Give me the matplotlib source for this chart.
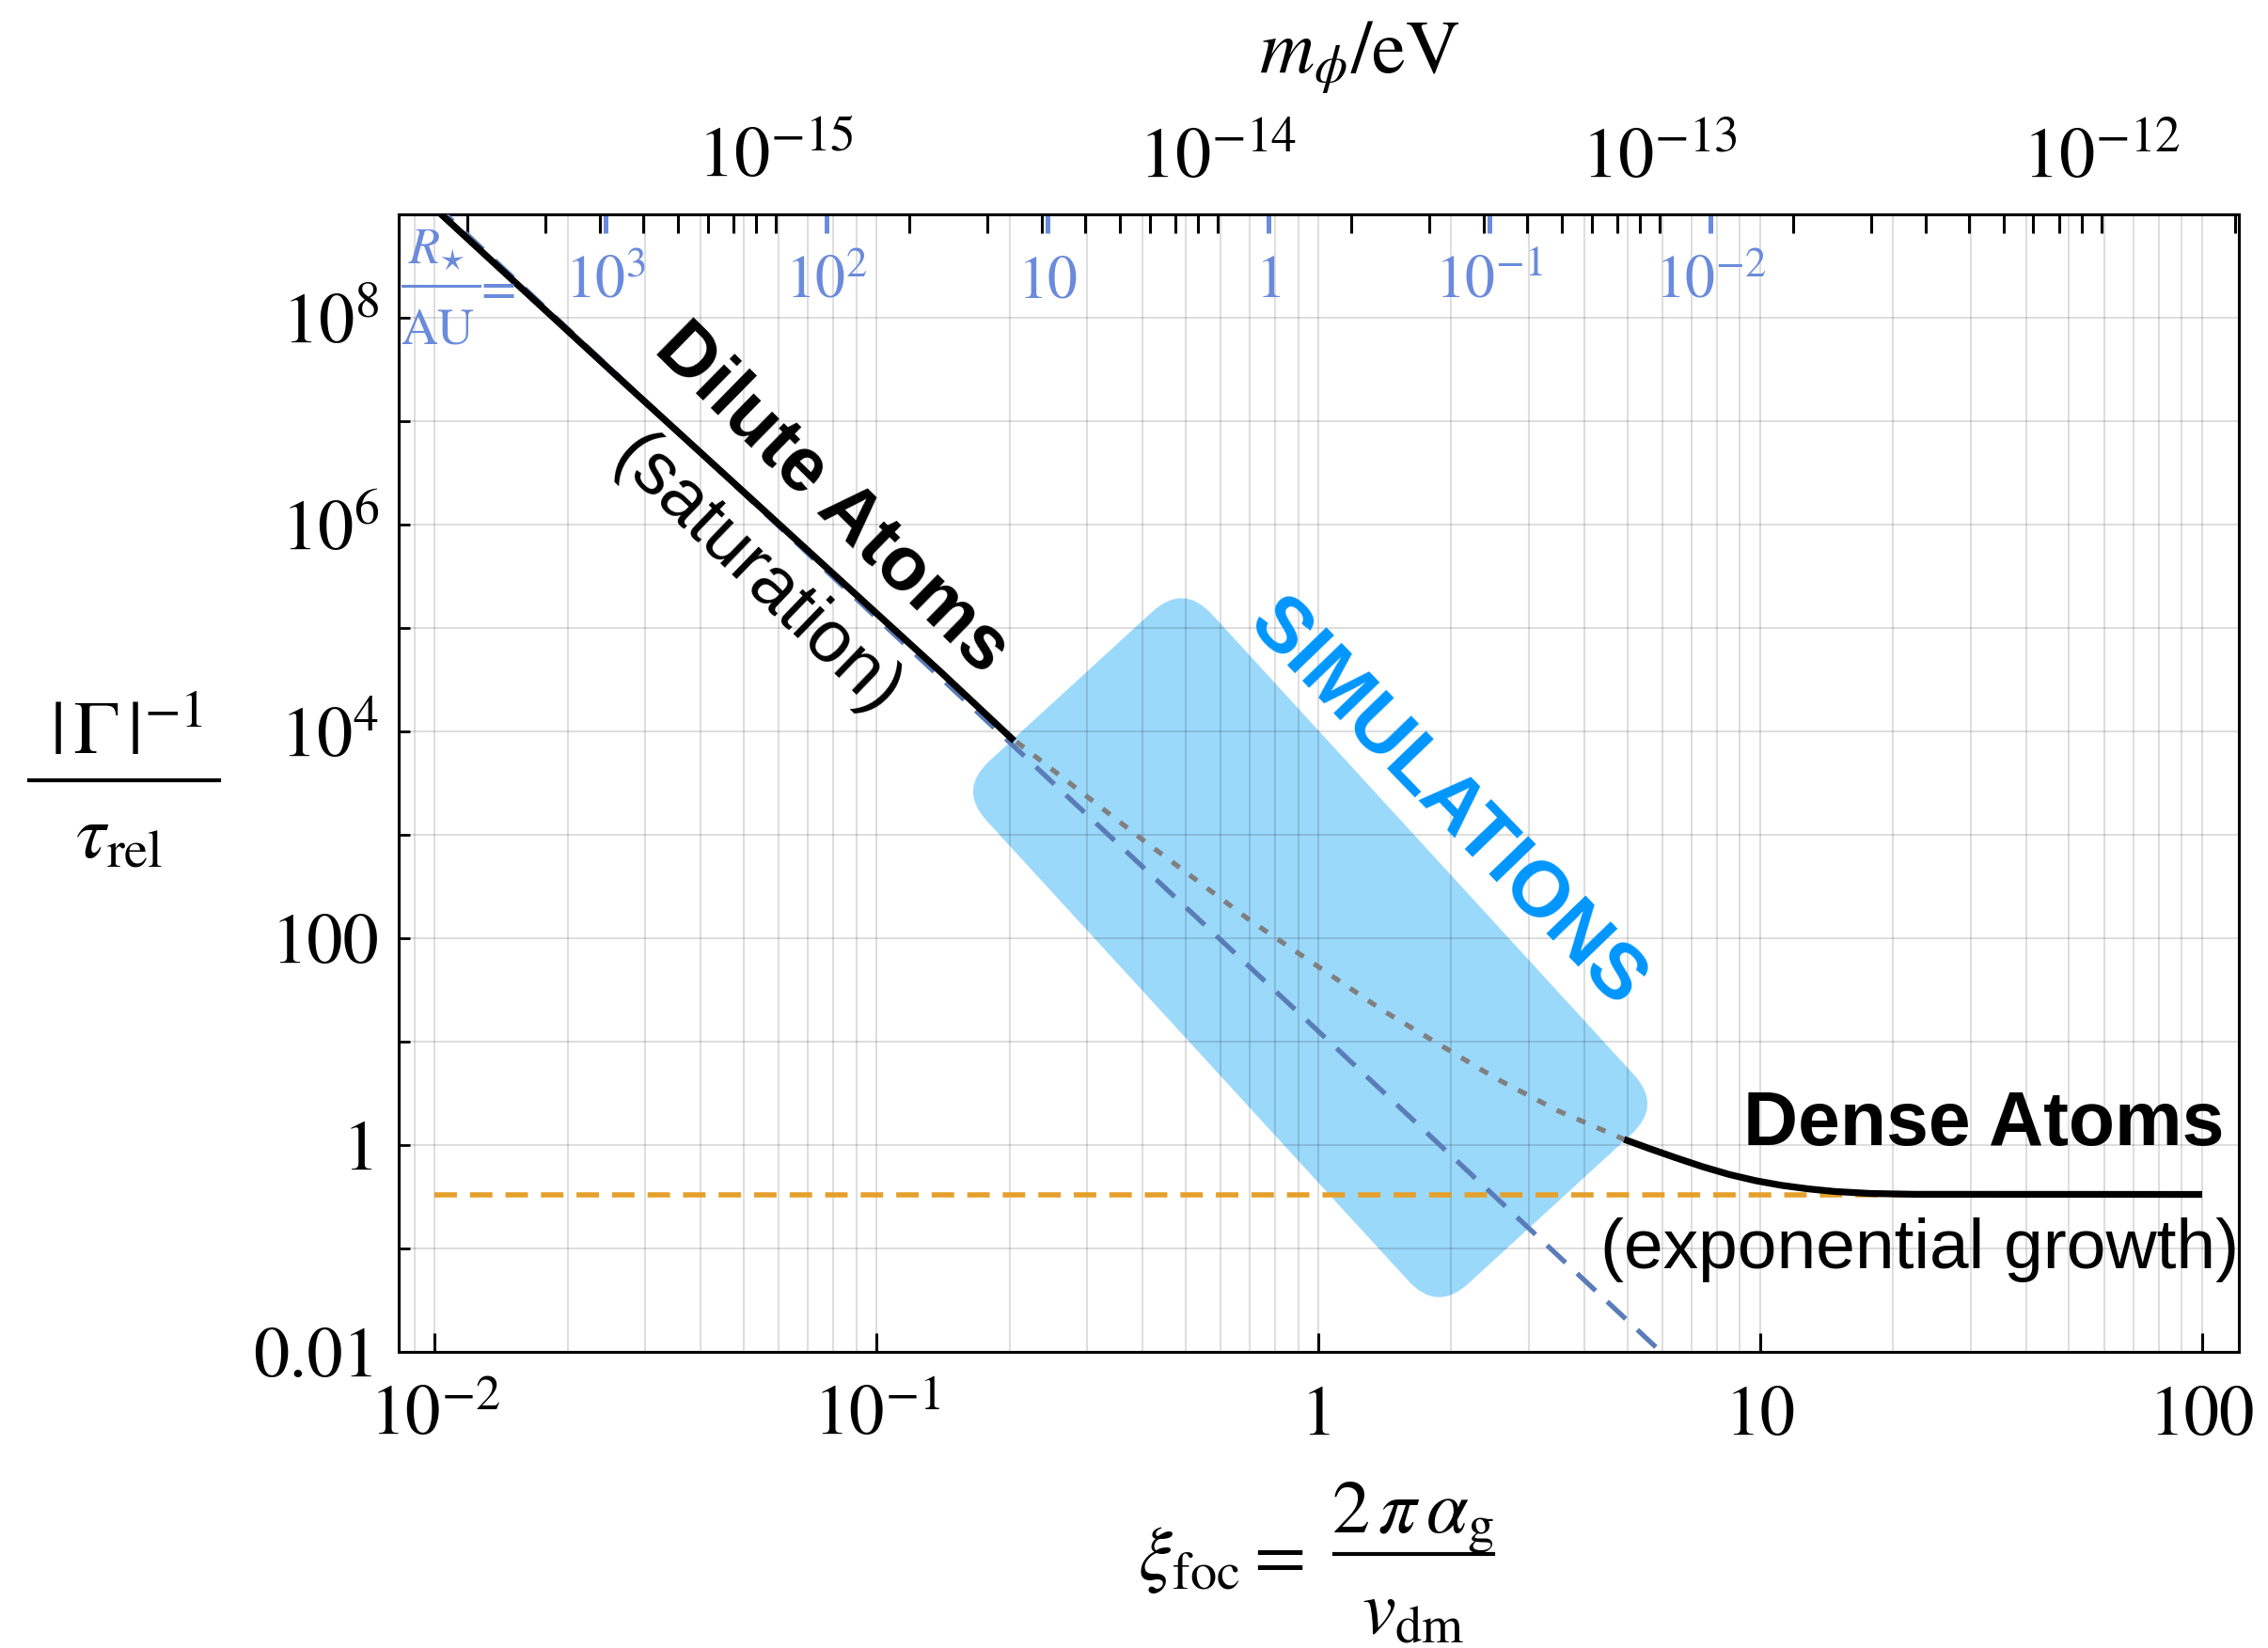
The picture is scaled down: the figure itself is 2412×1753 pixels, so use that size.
import numpy as np
import matplotlib
matplotlib.use('Agg')
import matplotlib.pyplot as plt
from matplotlib.lines import Line2D
from matplotlib.patches import FancyBboxPatch
from matplotlib.transforms import Affine2D, blended_transform_factory
from matplotlib.ticker import LogLocator, NullLocator, NullFormatter

plt.rcParams['font.family'] = 'STIXGeneral'
plt.rcParams['mathtext.fontset'] = 'stix'

# curves (xi_foc, |Gamma|^-1 / tau_rel)
xi_dilute = [0.0100, 0.0273, 0.0562, 0.100, 0.140, 0.205]
gam_dilute = [1.15e9, 2.21e7, 1.32e6, 1.39e5, 3.74e4, 8.11e3]

xi_sat = [0.2075, 0.405, 0.705, 1.40, 2.52, 3.49, 4.92]
gam_sat = [7.94e3, 863, 146, 20.0, 4.42, 2.14, 1.135]

xi_dense = [4.92, 5.62, 6.46, 7.41, 8.51, 9.77, 11.2, 12.9, 14.8, 17.8, 22.4, 100]
gam_dense = [1.135, 0.923, 0.750, 0.617, 0.519, 0.452, 0.407, 0.376, 0.355, 0.340, 0.334, 0.333]

xi_asym = [0.01, 5.96]
gam_asym = [1.26e9, 0.01]

xi_floor = [0.01, 100]
gam_floor = [0.333, 0.333]

# ticks and labels
x_ticks = [1e-2, 1e-1, 1, 10, 100]
x_labels = [r'$10^{-2}$', r'$10^{-1}$', '1', '10', '100']
y_ticks = [1e-2, 1e-1, 1, 10, 100, 1e3, 1e4, 1e5, 1e6, 1e7, 1e8, 1e9]
y_labels = ['0.01', '', '1', '', '100', '', r'$10^4$', '', r'$10^6$', '', r'$10^8$', '']
m_ticks = [1e-15, 1e-14, 1e-13, 1e-12]
m_labels = [r'$10^{-15}$', r'$10^{-14}$', r'$10^{-13}$', r'$10^{-12}$']
R_ticks = [1e3, 1e2, 10, 1, 0.1, 0.01]
R_labels = [r'$10^{3}$', r'$10^{2}$', r'$10$', r'$1$', r'$10^{-1}$', r'$10^{-2}$']

# axis conversions
M_PER_XI = 10**-13.773
R_COEF = 10**-0.226

# simulations box (centre in data units)
box_xi, box_gam = 0.959, 81.0

blue_R = '#6A8ADB'
c_orange = '#E5A02B'
c_slate = '#5A7DB8'
c_box = '#9BD9FB'
c_sim = '#0096FF'

W_PX, H_PX = 2412, 1753


def fpos(x, y):
    # pixel position (from top-left) -> figure fraction
    return x / W_PX, 1 - y / H_PX


fig = plt.figure(figsize=(12.06, 8.765), dpi=200)
ax = fig.add_subplot(111)
fig.subplots_adjust(left=0.1758, right=0.9871, top=0.8699, bottom=0.1797)

ax.set_xscale('log')
ax.set_yscale('log')
ax.set_xlim(0.0083, 121)
ax.set_ylim(1e-2, 1e9)

ax.plot(xi_floor, gam_floor, color=c_orange, lw=2.0, dashes=(4.3, 2.5), zorder=2)
ax.plot(xi_asym, gam_asym, color=c_slate, lw=1.9, dashes=(5.1, 3.2), zorder=3)
ax.plot(xi_sat, gam_sat, color='#808080', lw=1.9, dashes=(1.9, 2.5), zorder=3)
ax.plot(xi_dilute, gam_dilute, color='k', lw=2.6, zorder=4, solid_capstyle='butt')
ax.plot(xi_dense, gam_dense, color='k', lw=2.6, zorder=4, solid_capstyle='butt')

# rotated rounded rectangle
cx, cy = ax.transData.transform((box_xi, box_gam))
L, W, r = 754, 325, 45
box = FancyBboxPatch((-L / 2, -W / 2), L, W,
                     boxstyle=f"round,pad=0,rounding_size={r}",
                     transform=Affine2D().rotate_deg(-47.5).translate(cx, cy),
                     facecolor=c_box, edgecolor='none', zorder=0.2)
ax.add_artist(box)

# grid
ax.set_axisbelow(True)
ax.xaxis.set_minor_locator(LogLocator(base=10, subs=np.arange(2, 10), numticks=20))
ax.xaxis.set_minor_formatter(NullFormatter())
ax.yaxis.set_minor_locator(NullLocator())
ax.grid(True, which='major', color='k', alpha=0.13, lw=0.75)
ax.grid(True, which='minor', axis='x', color='k', alpha=0.13, lw=0.75)

ax.set_xticks(x_ticks, x_labels)
ax.set_yticks(y_ticks, y_labels)
ax.tick_params(axis='x', which='major', direction='in', length=7.2, width=1.1,
               top=False, pad=31.7, labelsize=27)
ax.tick_params(axis='x', which='minor', length=0, top=False)
ax.tick_params(axis='y', which='major', direction='in', length=4.3, width=1.0,
               right=False, pad=7.5, labelsize=27.5)
plt.setp(ax.get_xticklabels(), va='baseline')
plt.setp(ax.get_yticklabels(), va='center_baseline')
for s in ax.spines.values():
    s.set_linewidth(1.1)

# top axis: m_phi
sec_m = ax.secondary_xaxis('top', functions=(lambda x: x * M_PER_XI,
                                              lambda m: m / M_PER_XI))
sec_m.set_xticks(m_ticks, m_labels)
sec_m.xaxis.set_minor_locator(LogLocator(base=10, subs=np.arange(2, 10), numticks=20))
sec_m.xaxis.set_minor_formatter(NullFormatter())
sec_m.tick_params(which='both', direction='in', length=7.2, width=1.1)
sec_m.tick_params(which='major', pad=14.4, labelsize=27.5)
plt.setp(sec_m.get_xticklabels(), va='baseline')
sec_m.spines['top'].set_linewidth(1.1)


# top axis: R_star / AU (blue)
def xi_to_R(x):
    x = np.maximum(np.asarray(x, dtype=float), 1e-300)
    return R_COEF / x**2


def R_to_xi(R):
    R = np.maximum(np.asarray(R, dtype=float), 1e-300)
    return np.sqrt(R_COEF / R)


sec_R = ax.secondary_xaxis('top', functions=(xi_to_R, R_to_xi))
sec_R.set_xticks(R_ticks, [''] * len(R_ticks))
sec_R.xaxis.set_minor_locator(NullLocator())
sec_R.tick_params(which='major', direction='in', length=7.2, width=1.8, color=blue_R)
sec_R.spines['top'].set_visible(False)

trans = blended_transform_factory(ax.transData, ax.transAxes)
for R, lab in zip(R_ticks, R_labels):
    ax.text(R_to_xi(R), 0.9273, lab, transform=trans, ha='center', va='baseline',
            color=blue_R, fontsize=23, zorder=5)

# "R_star / AU =" built as a stacked fraction
fig.text(*fpos(464, 280), r'$R_{\star}$', ha='center', va='baseline', color=blue_R, fontsize=19.5)
fig.text(*fpos(465, 365), 'AU', ha='center', va='baseline', color=blue_R, fontsize=19.5)
fig.add_artist(Line2D([428 / W_PX, 510 / W_PX], [1 - 304 / H_PX] * 2,
                      transform=fig.transFigure, color=blue_R, lw=1.1))
fig.text(*fpos(530, 311), '=', ha='center', va='center', color=blue_R, fontsize=19.5)

# annotations
sans = 'Liberation Sans'
ax.text(0.0793, 1.76e6, 'Dilute Atoms', rotation=-44.5, rotation_mode='anchor',
        ha='center', va='center', fontsize=29, fontweight='bold', fontfamily=sans, zorder=6)
ax.text(0.0533, 3.23e5, '(saturation)', rotation=-44.0, rotation_mode='anchor',
        ha='center', va='center', fontsize=28, fontfamily=sans, zorder=6)
ax.text(1.95, 2040, 'SIMULATIONS', rotation=-46.0, rotation_mode='anchor',
        ha='center', va='center', fontsize=30, fontweight='bold', fontfamily=sans,
        color=c_sim, zorder=6)
ax.text(32.0, 1.55, 'Dense Atoms', ha='center', va='center', fontsize=29,
        fontweight='bold', fontfamily=sans, zorder=6)
ax.text(22.9, 0.096, '(exponential growth)', ha='center', va='center', fontsize=27,
        fontfamily=sans, zorder=6)

# y label: |Gamma|^-1 / tau_rel
fig.text(*fpos(134, 803), r'$|\,\Gamma\,|^{-1}$', ha='center', va='baseline', fontsize=29)
fig.text(*fpos(127, 913), r'$\tau_{\mathrm{rel}}$', ha='center', va='baseline', fontsize=29)
fig.add_artist(Line2D([31 / W_PX, 233 / W_PX], [1 - 830 / H_PX] * 2,
                      transform=fig.transFigure, color='k', lw=1.5))

# x label: xi_foc = 2 pi alpha_g / v_dm
fig.text(*fpos(1210, 1680), r'$\xi_{\mathrm{foc}} =$', ha='left', va='baseline', fontsize=29)
fig.text(*fpos(1503, 1630), r'$2\,\pi\,\alpha_{\mathrm{g}}$', ha='center', va='baseline', fontsize=29)
fig.text(*fpos(1503, 1738), r'$v_{\mathrm{dm}}$', ha='center', va='baseline', fontsize=29)
fig.add_artist(Line2D([1419 / W_PX, 1588 / W_PX], [1 - 1653 / H_PX] * 2,
                      transform=fig.transFigure, color='k', lw=1.5))

# top label
fig.text(0.5995, 0.965, r'$m_{\phi}/\mathrm{eV}$', ha='center', va='center', fontsize=29)

fig.savefig('out.png', dpi=200)
